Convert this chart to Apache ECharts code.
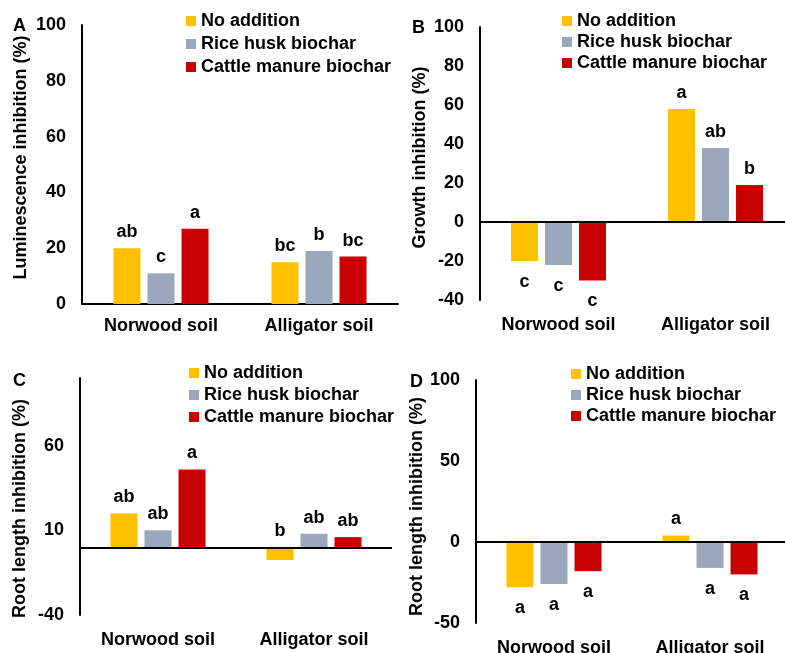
<!DOCTYPE html>
<html>
<head>
<meta charset="utf-8">
<script src="https://cdn.jsdelivr.net/npm/echarts@6/dist/echarts.min.js"></script>
<style>
  html, body { margin: 0; padding: 0; background: #fff; }
  #chart { width: 785px; height: 653px; }
</style>
</head>
<body>
<div id="chart"></div>
<script>
// soils on the x axis, three treatments per soil
const soils = ["Norwood soil", "Alligator soil"];
const treatments = ["No addition", "Rice husk biochar", "Cattle manure biochar"];
const colors = ["#FFC000", "#9AA7BC", "#C80000"];

// A: luminescence inhibition (%)
const lumValues = [[20, 15], [11, 19], [27, 17]];
const lumLetters = [["ab", "bc"], ["c", "b"], ["a", "bc"]];
// B: growth inhibition (%)
const growthValues = [[-20, 58], [-22, 38], [-30, 19]];
const growthLetters = [["c", "a"], ["c", "ab"], ["c", "b"]];
// C: root length inhibition (%)
const rootCValues = [[20, -7.5], [10, 8], [46, 6]];
const rootCLetters = [["ab", "b"], ["ab", "ab"], ["a", "ab"]];
// D: root length inhibition (%)
const rootDValues = [[-28, 4], [-26, -16], [-18, -20]];
const rootDLetters = [["a", "a"], ["a", "a"], ["a", "a"]];

const FONT = "'Liberation Sans', Arial, sans-serif";
const txt = { color: "#000", fontFamily: FONT, fontWeight: "bold", fontSize: 18 };

// one panel = grid + axes + 3 bar series + legend
const panels = [
  {
    grid: { left: 82, top: 25, width: 316, height: 279 },
    y: { min: 0, max: 100, interval: 20, name: "Luminescence inhibition (%)", nameGap: 52, namePad: [0, 0, 0, 14] },
    values: lumValues, letters: lumLetters, labelMargin: 13, zeroLine: false, negBelow: true,
    legend: { left: 186, top: 12, itemGap: 5 },
    letter: { text: "A", x: 13, y: 26 },
  },
  {
    grid: { left: 480, top: 27, width: 314, height: 273 },
    y: { min: -40, max: 100, interval: 20, name: "Growth inhibition (%)", nameGap: 51, namePad: [0, 0, 0, 12] },
    values: growthValues, letters: growthLetters, labelMargin: 16, zeroLine: true, negBelow: true,
    legend: { left: 562, top: 12, itemGap: 3 },
    letter: { text: "B", x: 412, y: 28 },
  },
  {
    grid: { left: 80, top: 378, width: 312, height: 237 },
    y: {
      min: -40, max: 100, interval: 10, name: "Root length inhibition (%)", nameGap: 51, namePad: [0, 24, 0, 0],
      formatter: (v) => ((v + 40) % 50 === 0 && v < 100 ? String(v) : ""),
    },
    values: rootCValues, letters: rootCLetters, labelMargin: 16, zeroLine: true, negBelow: false,
    legend: { left: 189, top: 364, itemGap: 4 },
    letter: { text: "C", x: 13, y: 381 },
  },
  {
    grid: { left: 476, top: 380, width: 312, height: 243 },
    y: { min: -50, max: 100, interval: 50, name: "Root length inhibition (%)", nameGap: 49, namePad: [0, 10, 0, 0] },
    values: rootDValues, letters: rootDLetters, labelMargin: 16, zeroLine: true, negBelow: true,
    legend: { left: 571, top: 365, itemGap: 3 },
    letter: { text: "D", x: 410, y: 382 },
  },
];

const option = {
  backgroundColor: "#fff",
  animation: false,
  grid: [], xAxis: [], yAxis: [], series: [], legend: [], graphic: [],
};

panels.forEach((p, idx) => {
  // fixed pixel box, don't let v6 shrink it to fit labels
  option.grid.push({ ...p.grid, containLabel: false, outerBoundsMode: "none" });
  option.xAxis.push({
    type: "category",
    gridIndex: idx,
    data: soils,
    axisLine: { show: !p.zeroLine, onZero: false, lineStyle: { color: "#000", width: 2 } },
    axisTick: { show: false },
    axisLabel: { ...txt, margin: p.labelMargin },
  });
  option.yAxis.push({
    type: "value",
    gridIndex: idx,
    min: p.y.min, max: p.y.max, interval: p.y.interval,
    name: p.y.name,
    nameLocation: "middle",
    nameRotate: 90,
    nameGap: p.y.nameGap,
    nameTextStyle: { ...txt, padding: p.y.namePad },
    axisLine: { show: true, lineStyle: { color: "#000", width: 2 } },
    axisTick: { show: false },
    splitLine: { show: false },
    axisLabel: { ...txt, margin: 16, formatter: p.y.formatter },
  });
  treatments.forEach((name, s) => {
    const series = {
      type: "bar",
      name,
      xAxisIndex: idx,
      yAxisIndex: idx,
      barWidth: 27,
      barGap: "26%",
      itemStyle: { color: colors[s] },
      data: p.values[s].map((v, i) => ({
        value: v,
        label: {
          formatter: p.letters[s][i],
          position: v < 0 && p.negBelow ? "bottom" : "top",
          distance: v < 0 && p.negBelow ? 12 : 7,
        },
      })),
      label: { show: true, ...txt },
    };
    if (p.zeroLine && s === 0) {
      series.markLine = {
        silent: true,
        symbol: "none",
        label: { show: false },
        lineStyle: { color: "#000", width: 2, type: "solid" },
        data: [{ yAxis: 0 }],
      };
    }
    option.series.push(series);
  });
  option.legend.push({
    orient: "vertical",
    left: p.legend.left,
    top: p.legend.top,
    padding: 0,
    itemGap: p.legend.itemGap,
    itemWidth: 10,
    itemHeight: 10,
    icon: "rect",
    selectedMode: false,
    data: treatments,
    textStyle: { ...txt },
  });
  option.graphic.push({
    type: "text",
    left: p.letter.x,
    top: p.letter.y - 9,
    style: { text: p.letter.text, fill: "#000", font: "bold 18px " + FONT },
  });
});

const chart = echarts.init(document.getElementById("chart"), null, { renderer: "canvas" });
chart.setOption(option);
</script>
</body>
</html>
